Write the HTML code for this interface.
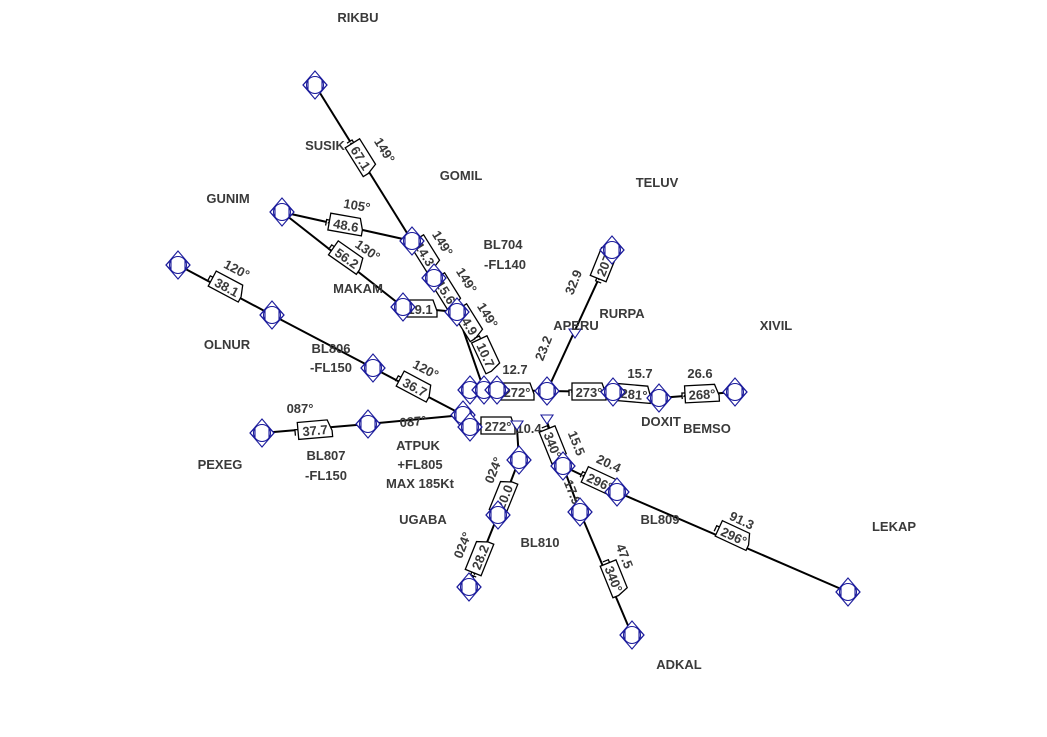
<!DOCTYPE html>
<html><head><meta charset="utf-8"><style>
html,body{margin:0;padding:0;background:#fff;}
svg{display:block;font-family:"Liberation Sans",sans-serif;}
.nm{font-weight:bold;font-size:13px;fill:#3a3a3a;}
.lg{font-weight:bold;font-size:13px;fill:#3a3a3a;}
</style></head><body>
<svg id="chart" width="1047" height="737" viewBox="0 0 1047 737" xmlns="http://www.w3.org/2000/svg">
<g id="legs"></g>
<g id="boxes"></g>
<g id="wps"></g>
<g id="names"></g>
</svg>
<script>
// waypoints: id, x, y
const wpIds = ["R1","S1","S2","S3","C1","C2","C3","G1","M1","O1","O2","O3","A1","P1","P2","E1","RU","E2","D1","B1","L1","U1","U2","U3","K2","K3","AD","B2","LK"];
const wpX = [315,412,434,457,470,484,497,282,403,178,272,373,463,262,368,547,612,613,659,735,470,519,498,469,563,580,632,617,848];
const wpY = [85,241,278,312,390,390,390,212,307,265,315,368,415,433,424,391,250,392,398,392,427,460,515,587,466,512,635,492,592];
// minor points (small triangle markers): id, x, y
const mkIds = ["T1","K1","AP"];
const mkX = [517,547,575];
const mkY = [428,422,336];
// legs as pairs of ids
const legFrom = ["R1","S1","S2","S3","G1","G1","M1","O1","O2","O3","P1","P2","C3","E1","E1","E2","D1","A1","L1","T1","U1","U2","K1","K2","K3","K2","B2"];
const legTo   = ["S1","S2","S3","C2","S1","M1","S3","O2","O3","A1","P2","A1","E1","RU","E2","D1","B1","L1","T1","U1","U2","U3","K2","K3","AD","B2","LK"];
// annotations: x, y, angle, text, boxed
const annX = [361,385,425,443,446,467,468,488,486,515,346,357,347,368,420,227,237,415,426,315,300,413,517,498,529,589,634,640,702,700,605,573,543,553,577,573,614,625,600,609,734,742,493,504,462,480];
const annY = [158,150,254,243,292,280,323,315,355,369,225,205,258,250,309,287,269,387,369,430,408,421,392,426,428,392,394,373,394,373,263,282,348,445,443,492,579,556,482,463,536,520,470,497,545,557];
const annA = [58,58,58,58,58,58,58,58,65,0,10,10,35,35,0,28,28,28,28,-5,0,-5,0,0,0,0,5,0,-3,0,-68,-68,-68,68,68,68,68,68,25,25,25,25,-68,-68,-68,-68];
const annT = ["67.1","149°","14.3","149°","15.6","149°","14.9","149°","10.7","12.7","48.6","105°","56.2","130°","19.1","38.1","120°","36.7","120°","37.7","087°","087°","272°","272°","10.4","273°","281°","15.7","268°","26.6","207°","32.9","23.2","340°","15.5","17.9","340°","47.5","296°","20.4","296°","91.3","024°","20.0","024°","28.2"];
const annB = [1,0,1,0,1,0,1,0,1,0,1,0,1,0,1,1,0,1,0,1,0,0,1,1,0,1,1,0,1,0,1,0,0,1,0,0,1,0,1,0,1,0,0,1,0,1];
// names
const nmT = ["RIKBU","SUSIK","GOMIL","TELUV","GUNIM","BL704","-FL140","MAKAM","RURPA","APERU","XIVIL","OLNUR","BL806","-FL150","DOXIT","BEMSO","PEXEG","BL807","-FL150","ATPUK","+FL805","MAX 185Kt","UGABA","BL810","BL809","LEKAP","ADKAL"];
const nmX = [358,325,461,657,228,503,505,358,622,576,776,227,331,331,661,707,220,326,326,418,420,420,423,540,660,894,679];
const nmY = [22,150,180,187,203,249,269,293,318,330,330,349,353,372,426,433,469,460,480,450,469,488,524,547,524,531,669];

const NS="http://www.w3.org/2000/svg";
function mk(t,a){const e=document.createElementNS(NS,t);for(const k in a)e.setAttribute(k,a[k]);return e;}
function px(id){let i=wpIds.indexOf(id);return i>=0?wpX[i]:mkX[mkIds.indexOf(id)];}
function py(id){let i=wpIds.indexOf(id);return i>=0?wpY[i]:mkY[mkIds.indexOf(id)];}
const gL=document.getElementById('legs');
for(let i=0;i<legFrom.length;i++){
  const l=mk('line',{x1:px(legFrom[i]),y1:py(legFrom[i]),x2:px(legTo[i]),y2:py(legTo[i]),stroke:'#000','stroke-width':2});
  
  
  gL.appendChild(l);
}
const gB=document.getElementById('boxes');
for(let i=0;i<annT.length;i++){
  const g=mk('g',{transform:`translate(${annX[i]},${annY[i]}) rotate(${annA[i]})`});
  
  
  if(annB[i]){
    g.appendChild(mk('path',{d:'M-17,-9 L13,-9 L17,2 L17,8 L-17,8 Z M-17,-2 L-20,-2 L-20,4',fill:'#fff',stroke:'#000','stroke-width':1.3}));
  }
  const t=mk('text',{x:0,y:5,'text-anchor':'middle',class:'lg'});
  t.textContent=annT[i];
  g.appendChild(t);
  gB.appendChild(g);
}
const gW=document.getElementById('wps');
const C='#1c1c9c';
for(let i=0;i<wpIds.length;i++){
  const x=wpX[i],y=wpY[i];
  const g=mk('g',{transform:`translate(${x},${y})`,fill:'none',stroke:C,'stroke-width':1.1});
  
  
  g.appendChild(mk('path',{d:'M0,-14 L12,0 L0,14 L-12,0 Z',fill:'#fff'}));
  g.appendChild(mk('circle',{cx:0,cy:0,r:8.5}));
  g.appendChild(mk('path',{d:'M-12,0 L-7,-5 L-7,5 Z M12,0 L7,-5 L7,5 Z'}));
  gW.appendChild(g);
}
for(let i=0;i<mkIds.length;i++){
  const g=mk('g',{transform:`translate(${mkX[i]},${mkY[i]})`,fill:'#fff',stroke:C,'stroke-width':1.1});
  
  
  g.appendChild(mk('path',{d:'M-6,-7 L6,-7 L0,2 Z'}));
  gW.appendChild(g);
}
const gN=document.getElementById('names');
for(let i=0;i<nmT.length;i++){
  const t=mk('text',{x:nmX[i],y:nmY[i],'text-anchor':'middle',class:'nm'});
  
  
  t.textContent=nmT[i];
  gN.appendChild(t);
}
</script>
</body></html>
